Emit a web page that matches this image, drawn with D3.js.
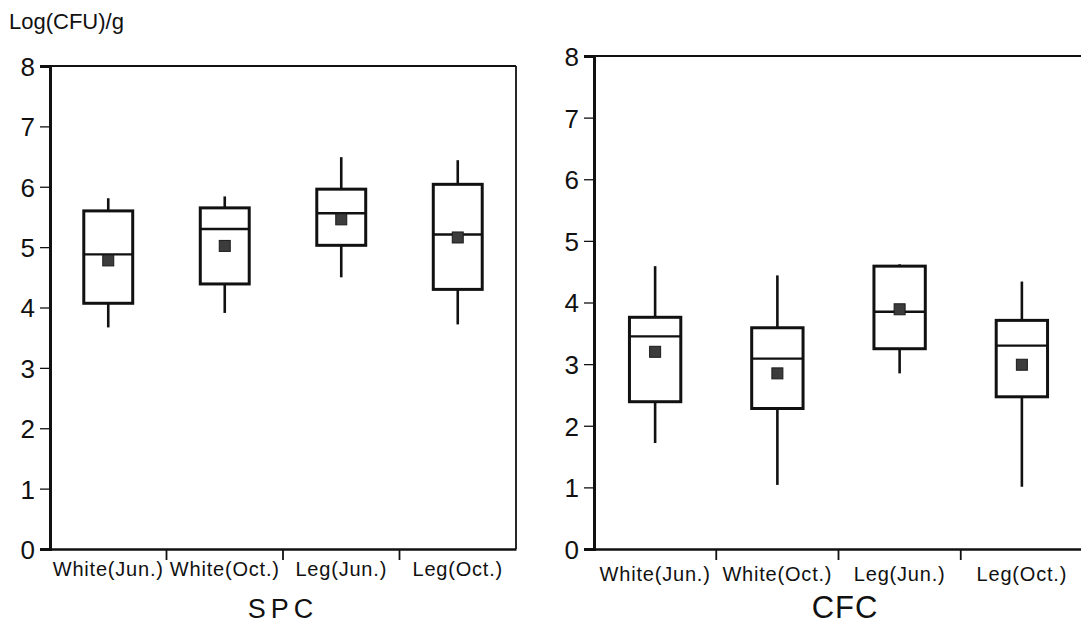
<!DOCTYPE html>
<html><head><meta charset="utf-8">
<script src="https://cdn.jsdelivr.net/npm/d3@7"></script>
<style>body{margin:0;background:#fff}svg{display:block}text{font-family:"Liberation Sans",Arial,sans-serif;fill:#111}</style>
</head><body><svg id="c" width="1081" height="628"></svg>
<script>
const categories = ["White(Jun.)","White(Oct.)","Leg(Jun.)","Leg(Oct.)"];
const yTicks = [0,1,2,3,4,5,6,7,8];
// SPC
const spcWhiskerLow  = [3.67,3.91,4.50,3.72];
const spcQ1          = [4.07,4.39,5.03,4.30];
const spcMedian      = [4.88,5.30,5.56,5.21];
const spcQ3          = [5.60,5.65,5.96,6.04];
const spcWhiskerHigh = [5.81,5.84,6.49,6.44];
const spcMean        = [4.78,5.02,5.46,5.16];
// CFC
const cfcWhiskerLow  = [1.72,1.04,2.85,1.01];
const cfcQ1          = [2.39,2.28,3.25,2.47];
const cfcMedian      = [3.45,3.09,3.85,3.30];
const cfcQ3          = [3.76,3.59,4.59,3.71];
const cfcWhiskerHigh = [4.59,4.44,4.62,4.34];
const cfcMean        = [3.20,2.85,3.89,2.99];

function build(arrs){return categories.map((c,i)=>({cat:c,lo:arrs[0][i],q1:arrs[1][i],med:arrs[2][i],q3:arrs[3][i],hi:arrs[4][i],mean:arrs[5][i]}));}
const spc = build([spcWhiskerLow,spcQ1,spcMedian,spcQ3,spcWhiskerHigh,spcMean]);
const cfc = build([cfcWhiskerLow,cfcQ1,cfcMedian,cfcQ3,cfcWhiskerHigh,cfcMean]);

const svg = d3.select("#c");
svg.append("text").attr("x",9).attr("y",29).attr("font-size",22).text("Log(CFU)/g");

function panel(data, x0, x1, yTop, yBot, labelY, title, titleX, titleOpts){
  const g = svg.append("g");
  const x = d3.scaleBand().domain(categories).range([x0,x1]).padding(0);
  const y = d3.scaleLinear().domain([0,8]).range([yBot,yTop]);
  g.append("line").attr("x1",x0).attr("x2",x1).attr("y1",y(8)).attr("y2",y(8)).attr("stroke","#111").attr("stroke-width",1.8);
  g.append("line").attr("x1",x1).attr("x2",x1).attr("y1",y(8)).attr("y2",y(0)).attr("stroke","#111").attr("stroke-width",1.8);
  const ya = g.append("g").attr("transform",`translate(${x0},0)`)
    .call(d3.axisLeft(y).tickValues(yTicks).tickSize(10).tickPadding(5).tickFormat(d3.format("d")));
  ya.select(".domain").attr("stroke","#111").attr("stroke-width",3);
  ya.selectAll(".tick line").attr("stroke","#111").attr("stroke-width",1.3);
  ya.selectAll("text").attr("font-size",26).attr("font-family","Liberation Sans, Arial, sans-serif").attr("fill","#111").attr("dy","0.36em");
  const xa = g.append("g").attr("transform",`translate(0,${y(0)})`)
    .call(d3.axisBottom(x).tickSize(0).tickPadding(0));
  xa.select(".domain").attr("stroke","#111").attr("stroke-width",2.4);
  xa.selectAll("text").attr("font-size",20).attr("letter-spacing","0.8px").attr("font-family","Liberation Sans, Arial, sans-serif").attr("fill","#111")
    .attr("dy",null).attr("y",labelY - yBot);
  categories.slice(1).forEach(c=>{
    g.append("line").attr("x1",x(c)).attr("x2",x(c)).attr("y1",y(0)).attr("y2",y(0)+11).attr("stroke","#111").attr("stroke-width",1.8);
  });
  const bw = x.bandwidth()*0.42;
  const bx = d=>x(d.cat)+x.bandwidth()/2;
  const b = g.selectAll(".box").data(data).join("g");
  b.append("line").attr("x1",bx).attr("x2",bx).attr("y1",d=>y(d.hi)).attr("y2",d=>y(d.q3)).attr("stroke","#111").attr("stroke-width",2.6);
  b.append("line").attr("x1",bx).attr("x2",bx).attr("y1",d=>y(d.q1)).attr("y2",d=>y(d.lo)).attr("stroke","#111").attr("stroke-width",2.6);
  b.append("rect").attr("x",d=>bx(d)-bw/2).attr("width",bw).attr("y",d=>y(d.q3)).attr("height",d=>y(d.q1)-y(d.q3))
    .attr("fill","#fff").attr("stroke","#111").attr("stroke-width",3);
  b.append("line").attr("x1",d=>bx(d)-bw/2).attr("x2",d=>bx(d)+bw/2).attr("y1",d=>y(d.med)).attr("y2",d=>y(d.med)).attr("stroke","#111").attr("stroke-width",2.4);
  b.append("rect").attr("x",d=>bx(d)-5.5).attr("y",d=>y(d.mean)-5.5).attr("width",11).attr("height",11).attr("fill","#3c3c3c").attr("stroke","#1a1a1a").attr("stroke-width",1);
  svg.append("text").attr("x",titleX).attr("y",618).attr("text-anchor","middle")
    .attr("font-size",titleOpts.fs).attr("letter-spacing",titleOpts.ls).attr("font-family",titleOpts.ff).text(title);
}
panel(spc, 50, 516, 66, 549, 576, "SPC", 283, {fs:27, ls:"5px", ff:"Liberation Sans, Arial, sans-serif"});
panel(cfc, 594, 1083, 56, 549, 581, "CFC", 845, {fs:31, ls:"1px", ff:"Liberation Sans Narrow, Liberation Sans, Arial, sans-serif"});
</script></body></html>
